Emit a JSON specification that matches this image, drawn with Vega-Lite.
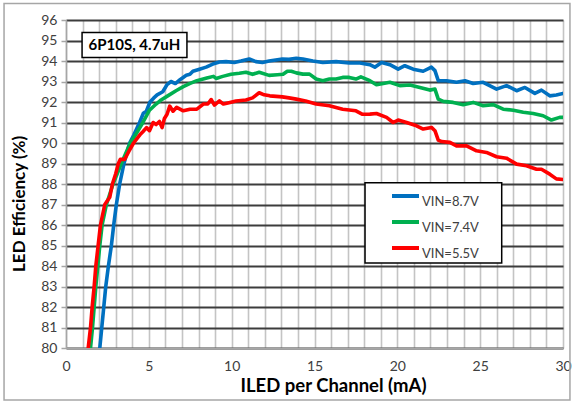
{
  "$schema": "https://vega.github.io/schema/vega-lite/v6.json",
  "width": 497,
  "height": 328,
  "autosize": "none",
  "padding": {"left": 66, "top": 20, "right": 11, "bottom": 55},
  "background": "white",
  "config": {
    "font": "Lato",
    "view": {"stroke": null},
    "axis": {
      "grid": true,
      "tickSize": 5, "tickColor": "#a6a6a6", "tickWidth": 1.5,
      "domainColor": "#a6a6a6", "domainWidth": 1.5,
      "labelFontSize": 14, "labelColor": "#404040",
      "labelOverlap": false, "labelFlush": false,
      "titleFontWeight": "bold", "titleColor": "#000000", "titleBaseline": "middle"
    },
    "axisX": {
      "tickCount": 30, "gridColor": "#c4c4c4", "gridWidth": 1.6, "labelPadding": 6,
      "labelExpr": "datum.value % 5 === 0 ? datum.label : ''",
      "tickOpacity": {"condition": {"test": "datum.value % 5 === 0", "value": 1}, "value": 0},
      "titleFontSize": 18.5, "titleX": 267, "titleY": 37
    },
    "axisY": {"tickCount": 16, "gridColor": "#3c3c3c", "gridWidth": 1.8, "labelPadding": 4}
  },
  "datasets": {
    "curves": [
      {"series": "VIN=8.7V", "current": 2.04, "efficiency": 80},
      {"series": "VIN=8.7V", "current": 2.16, "efficiency": 81},
      {"series": "VIN=8.7V", "current": 2.28, "efficiency": 82},
      {"series": "VIN=8.7V", "current": 2.4, "efficiency": 83},
      {"series": "VIN=8.7V", "current": 2.56, "efficiency": 84},
      {"series": "VIN=8.7V", "current": 2.74, "efficiency": 85},
      {"series": "VIN=8.7V", "current": 2.88, "efficiency": 86},
      {"series": "VIN=8.7V", "current": 3.04, "efficiency": 87},
      {"series": "VIN=8.7V", "current": 3.24, "efficiency": 88},
      {"series": "VIN=8.7V", "current": 3.5, "efficiency": 89},
      {"series": "VIN=8.7V", "current": 3.84, "efficiency": 90},
      {"series": "VIN=8.7V", "current": 4.1, "efficiency": 90.4},
      {"series": "VIN=8.7V", "current": 4.44, "efficiency": 91},
      {"series": "VIN=8.7V", "current": 4.67, "efficiency": 91.45},
      {"series": "VIN=8.7V", "current": 4.85, "efficiency": 91.55},
      {"series": "VIN=8.7V", "current": 5.07, "efficiency": 92},
      {"series": "VIN=8.7V", "current": 5.3, "efficiency": 92.2},
      {"series": "VIN=8.7V", "current": 5.5, "efficiency": 92.35},
      {"series": "VIN=8.7V", "current": 5.84, "efficiency": 92.5},
      {"series": "VIN=8.7V", "current": 6.1, "efficiency": 92.85},
      {"series": "VIN=8.7V", "current": 6.34, "efficiency": 93.0},
      {"series": "VIN=8.7V", "current": 6.6, "efficiency": 92.9},
      {"series": "VIN=8.7V", "current": 6.9, "efficiency": 93.1},
      {"series": "VIN=8.7V", "current": 7.26, "efficiency": 93.3},
      {"series": "VIN=8.7V", "current": 7.48, "efficiency": 93.35},
      {"series": "VIN=8.7V", "current": 7.66, "efficiency": 93.5},
      {"series": "VIN=8.7V", "current": 8.06, "efficiency": 93.6},
      {"series": "VIN=8.7V", "current": 8.46, "efficiency": 93.7},
      {"series": "VIN=8.7V", "current": 8.86, "efficiency": 93.85},
      {"series": "VIN=8.7V", "current": 9.26, "efficiency": 93.95},
      {"series": "VIN=8.7V", "current": 9.66, "efficiency": 93.97},
      {"series": "VIN=8.7V", "current": 10.16, "efficiency": 93.93},
      {"series": "VIN=8.7V", "current": 10.56, "efficiency": 94.0},
      {"series": "VIN=8.7V", "current": 11.06, "efficiency": 94.1},
      {"series": "VIN=8.7V", "current": 11.46, "efficiency": 93.97},
      {"series": "VIN=8.7V", "current": 11.86, "efficiency": 93.93},
      {"series": "VIN=8.7V", "current": 12.26, "efficiency": 94.0},
      {"series": "VIN=8.7V", "current": 12.66, "efficiency": 94.05},
      {"series": "VIN=8.7V", "current": 13.06, "efficiency": 94.1},
      {"series": "VIN=8.7V", "current": 13.46, "efficiency": 94.08},
      {"series": "VIN=8.7V", "current": 13.9, "efficiency": 94.13},
      {"series": "VIN=8.7V", "current": 14.3, "efficiency": 94.1},
      {"series": "VIN=8.7V", "current": 14.9, "efficiency": 94.0},
      {"series": "VIN=8.7V", "current": 15.5, "efficiency": 93.93},
      {"series": "VIN=8.7V", "current": 16.3, "efficiency": 93.97},
      {"series": "VIN=8.7V", "current": 17.1, "efficiency": 93.9},
      {"series": "VIN=8.7V", "current": 17.74, "efficiency": 93.9},
      {"series": "VIN=8.7V", "current": 18.34, "efficiency": 93.82},
      {"series": "VIN=8.7V", "current": 18.64, "efficiency": 93.7},
      {"series": "VIN=8.7V", "current": 19.05, "efficiency": 93.93},
      {"series": "VIN=8.7V", "current": 19.55, "efficiency": 93.82},
      {"series": "VIN=8.7V", "current": 20.05, "efficiency": 93.6},
      {"series": "VIN=8.7V", "current": 20.45, "efficiency": 93.77},
      {"series": "VIN=8.7V", "current": 20.96, "efficiency": 93.6},
      {"series": "VIN=8.7V", "current": 21.56, "efficiency": 93.5},
      {"series": "VIN=8.7V", "current": 22.06, "efficiency": 93.7},
      {"series": "VIN=8.7V", "current": 22.27, "efficiency": 93.53},
      {"series": "VIN=8.7V", "current": 22.47, "efficiency": 93.04},
      {"series": "VIN=8.7V", "current": 22.97, "efficiency": 93.04},
      {"series": "VIN=8.7V", "current": 23.57, "efficiency": 92.96},
      {"series": "VIN=8.7V", "current": 24.08, "efficiency": 93.04},
      {"series": "VIN=8.7V", "current": 24.58, "efficiency": 92.9},
      {"series": "VIN=8.7V", "current": 25.18, "efficiency": 92.96},
      {"series": "VIN=8.7V", "current": 25.99, "efficiency": 92.63},
      {"series": "VIN=8.7V", "current": 26.59, "efficiency": 92.8},
      {"series": "VIN=8.7V", "current": 27.2, "efficiency": 92.55},
      {"series": "VIN=8.7V", "current": 27.7, "efficiency": 92.71},
      {"series": "VIN=8.7V", "current": 28.3, "efficiency": 92.42},
      {"series": "VIN=8.7V", "current": 28.7, "efficiency": 92.58},
      {"series": "VIN=8.7V", "current": 29.2, "efficiency": 92.3},
      {"series": "VIN=8.7V", "current": 29.6, "efficiency": 92.34},
      {"series": "VIN=8.7V", "current": 30, "efficiency": 92.42},

      {"series": "VIN=7.4V", "current": 1.48, "efficiency": 80},
      {"series": "VIN=7.4V", "current": 1.6, "efficiency": 81},
      {"series": "VIN=7.4V", "current": 1.7, "efficiency": 82},
      {"series": "VIN=7.4V", "current": 1.8, "efficiency": 83},
      {"series": "VIN=7.4V", "current": 1.92, "efficiency": 84},
      {"series": "VIN=7.4V", "current": 2.04, "efficiency": 85},
      {"series": "VIN=7.4V", "current": 2.18, "efficiency": 86},
      {"series": "VIN=7.4V", "current": 2.44, "efficiency": 87},
      {"series": "VIN=7.4V", "current": 2.84, "efficiency": 88},
      {"series": "VIN=7.4V", "current": 3.34, "efficiency": 89},
      {"series": "VIN=7.4V", "current": 3.88, "efficiency": 90},
      {"series": "VIN=7.4V", "current": 4.2, "efficiency": 90.4},
      {"series": "VIN=7.4V", "current": 4.64, "efficiency": 91},
      {"series": "VIN=7.4V", "current": 5.04, "efficiency": 91.6},
      {"series": "VIN=7.4V", "current": 5.44, "efficiency": 91.9},
      {"series": "VIN=7.4V", "current": 5.74, "efficiency": 92.1},
      {"series": "VIN=7.4V", "current": 6.14, "efficiency": 92.3},
      {"series": "VIN=7.4V", "current": 6.64, "efficiency": 92.55},
      {"series": "VIN=7.4V", "current": 7.08, "efficiency": 92.75},
      {"series": "VIN=7.4V", "current": 7.46, "efficiency": 92.9},
      {"series": "VIN=7.4V", "current": 7.9, "efficiency": 93.04},
      {"series": "VIN=7.4V", "current": 8.5, "efficiency": 93.17},
      {"series": "VIN=7.4V", "current": 8.9, "efficiency": 93.25},
      {"series": "VIN=7.4V", "current": 9.06, "efficiency": 93.15},
      {"series": "VIN=7.4V", "current": 9.46, "efficiency": 93.25},
      {"series": "VIN=7.4V", "current": 9.96, "efficiency": 93.35},
      {"series": "VIN=7.4V", "current": 10.46, "efficiency": 93.4},
      {"series": "VIN=7.4V", "current": 10.86, "efficiency": 93.45},
      {"series": "VIN=7.4V", "current": 11.26, "efficiency": 93.35},
      {"series": "VIN=7.4V", "current": 11.66, "efficiency": 93.45},
      {"series": "VIN=7.4V", "current": 12.26, "efficiency": 93.3},
      {"series": "VIN=7.4V", "current": 12.76, "efficiency": 93.33},
      {"series": "VIN=7.4V", "current": 13.1, "efficiency": 93.35},
      {"series": "VIN=7.4V", "current": 13.36, "efficiency": 93.5},
      {"series": "VIN=7.4V", "current": 13.6, "efficiency": 93.5},
      {"series": "VIN=7.4V", "current": 13.9, "efficiency": 93.42},
      {"series": "VIN=7.4V", "current": 14.3, "efficiency": 93.36},
      {"series": "VIN=7.4V", "current": 14.7, "efficiency": 93.36},
      {"series": "VIN=7.4V", "current": 15.1, "efficiency": 93.12},
      {"series": "VIN=7.4V", "current": 15.5, "efficiency": 93.04},
      {"series": "VIN=7.4V", "current": 15.9, "efficiency": 93.12},
      {"series": "VIN=7.4V", "current": 16.3, "efficiency": 93.12},
      {"series": "VIN=7.4V", "current": 16.7, "efficiency": 93.2},
      {"series": "VIN=7.4V", "current": 17.1, "efficiency": 93.2},
      {"series": "VIN=7.4V", "current": 17.5, "efficiency": 93.12},
      {"series": "VIN=7.4V", "current": 17.8, "efficiency": 93.23},
      {"series": "VIN=7.4V", "current": 18.34, "efficiency": 93.04},
      {"series": "VIN=7.4V", "current": 18.74, "efficiency": 92.84},
      {"series": "VIN=7.4V", "current": 19.15, "efficiency": 92.9},
      {"series": "VIN=7.4V", "current": 19.55, "efficiency": 92.96},
      {"series": "VIN=7.4V", "current": 20.15, "efficiency": 92.8},
      {"series": "VIN=7.4V", "current": 20.76, "efficiency": 92.83},
      {"series": "VIN=7.4V", "current": 21.36, "efficiency": 92.71},
      {"series": "VIN=7.4V", "current": 21.96, "efficiency": 92.58},
      {"series": "VIN=7.4V", "current": 22.27, "efficiency": 92.63},
      {"series": "VIN=7.4V", "current": 22.47, "efficiency": 92.14},
      {"series": "VIN=7.4V", "current": 22.77, "efficiency": 92.03},
      {"series": "VIN=7.4V", "current": 23.37, "efficiency": 91.98},
      {"series": "VIN=7.4V", "current": 23.98, "efficiency": 91.87},
      {"series": "VIN=7.4V", "current": 24.58, "efficiency": 91.98},
      {"series": "VIN=7.4V", "current": 25.18, "efficiency": 91.82},
      {"series": "VIN=7.4V", "current": 25.79, "efficiency": 91.87},
      {"series": "VIN=7.4V", "current": 26.39, "efficiency": 91.65},
      {"series": "VIN=7.4V", "current": 27.0, "efficiency": 91.6},
      {"series": "VIN=7.4V", "current": 27.6, "efficiency": 91.5},
      {"series": "VIN=7.4V", "current": 28.2, "efficiency": 91.44},
      {"series": "VIN=7.4V", "current": 28.8, "efficiency": 91.33},
      {"series": "VIN=7.4V", "current": 29.3, "efficiency": 91.12},
      {"series": "VIN=7.4V", "current": 29.8, "efficiency": 91.25},
      {"series": "VIN=7.4V", "current": 30, "efficiency": 91.25},

      {"series": "VIN=5.5V", "current": 1.34, "efficiency": 80},
      {"series": "VIN=5.5V", "current": 1.48, "efficiency": 81},
      {"series": "VIN=5.5V", "current": 1.58, "efficiency": 82},
      {"series": "VIN=5.5V", "current": 1.7, "efficiency": 83},
      {"series": "VIN=5.5V", "current": 1.8, "efficiency": 84},
      {"series": "VIN=5.5V", "current": 1.94, "efficiency": 85},
      {"series": "VIN=5.5V", "current": 2.08, "efficiency": 86},
      {"series": "VIN=5.5V", "current": 2.34, "efficiency": 87},
      {"series": "VIN=5.5V", "current": 2.64, "efficiency": 87.35},
      {"series": "VIN=5.5V", "current": 2.8, "efficiency": 88},
      {"series": "VIN=5.5V", "current": 3.0, "efficiency": 88.5},
      {"series": "VIN=5.5V", "current": 3.16, "efficiency": 89},
      {"series": "VIN=5.5V", "current": 3.28, "efficiency": 89.2},
      {"series": "VIN=5.5V", "current": 3.54, "efficiency": 89.2},
      {"series": "VIN=5.5V", "current": 3.8, "efficiency": 89.6},
      {"series": "VIN=5.5V", "current": 4.08, "efficiency": 90},
      {"series": "VIN=5.5V", "current": 4.46, "efficiency": 90.4},
      {"series": "VIN=5.5V", "current": 4.64, "efficiency": 90.55},
      {"series": "VIN=5.5V", "current": 4.86, "efficiency": 90.75},
      {"series": "VIN=5.5V", "current": 5.04, "efficiency": 90.6},
      {"series": "VIN=5.5V", "current": 5.26, "efficiency": 91.0},
      {"series": "VIN=5.5V", "current": 5.44, "efficiency": 90.9},
      {"series": "VIN=5.5V", "current": 5.64, "efficiency": 91.05},
      {"series": "VIN=5.5V", "current": 5.8, "efficiency": 90.75},
      {"series": "VIN=5.5V", "current": 5.94, "efficiency": 91.2},
      {"series": "VIN=5.5V", "current": 6.1, "efficiency": 91.4},
      {"series": "VIN=5.5V", "current": 6.26, "efficiency": 91.8},
      {"series": "VIN=5.5V", "current": 6.46, "efficiency": 91.55},
      {"series": "VIN=5.5V", "current": 6.68, "efficiency": 91.74},
      {"series": "VIN=5.5V", "current": 7.08, "efficiency": 91.57},
      {"series": "VIN=5.5V", "current": 7.48, "efficiency": 91.65},
      {"series": "VIN=5.5V", "current": 7.9, "efficiency": 91.65},
      {"series": "VIN=5.5V", "current": 8.29, "efficiency": 91.9},
      {"series": "VIN=5.5V", "current": 8.56, "efficiency": 91.9},
      {"series": "VIN=5.5V", "current": 8.76, "efficiency": 92.12},
      {"series": "VIN=5.5V", "current": 8.96, "efficiency": 91.85},
      {"series": "VIN=5.5V", "current": 9.26, "efficiency": 92.05},
      {"series": "VIN=5.5V", "current": 9.5, "efficiency": 91.9},
      {"series": "VIN=5.5V", "current": 9.9, "efficiency": 91.98},
      {"series": "VIN=5.5V", "current": 10.26, "efficiency": 92.05},
      {"series": "VIN=5.5V", "current": 10.86, "efficiency": 92.1},
      {"series": "VIN=5.5V", "current": 11.26, "efficiency": 92.2},
      {"series": "VIN=5.5V", "current": 11.66, "efficiency": 92.45},
      {"series": "VIN=5.5V", "current": 11.96, "efficiency": 92.35},
      {"series": "VIN=5.5V", "current": 12.3, "efficiency": 92.3},
      {"series": "VIN=5.5V", "current": 13.06, "efficiency": 92.25},
      {"series": "VIN=5.5V", "current": 13.46, "efficiency": 92.2},
      {"series": "VIN=5.5V", "current": 13.9, "efficiency": 92.14},
      {"series": "VIN=5.5V", "current": 14.46, "efficiency": 92.05},
      {"series": "VIN=5.5V", "current": 15.1, "efficiency": 91.9},
      {"series": "VIN=5.5V", "current": 15.9, "efficiency": 91.82},
      {"series": "VIN=5.5V", "current": 16.7, "efficiency": 91.65},
      {"series": "VIN=5.5V", "current": 17.5, "efficiency": 91.57},
      {"series": "VIN=5.5V", "current": 17.9, "efficiency": 91.4},
      {"series": "VIN=5.5V", "current": 18.34, "efficiency": 91.41},
      {"series": "VIN=5.5V", "current": 18.74, "efficiency": 91.44},
      {"series": "VIN=5.5V", "current": 19.35, "efficiency": 91.25},
      {"series": "VIN=5.5V", "current": 19.75, "efficiency": 91.0},
      {"series": "VIN=5.5V", "current": 20.05, "efficiency": 91.12},
      {"series": "VIN=5.5V", "current": 20.56, "efficiency": 91.0},
      {"series": "VIN=5.5V", "current": 21.16, "efficiency": 90.84},
      {"series": "VIN=5.5V", "current": 21.56, "efficiency": 90.68},
      {"series": "VIN=5.5V", "current": 22.06, "efficiency": 90.76},
      {"series": "VIN=5.5V", "current": 22.27, "efficiency": 90.6},
      {"series": "VIN=5.5V", "current": 22.47, "efficiency": 90.14},
      {"series": "VIN=5.5V", "current": 22.67, "efficiency": 90.07},
      {"series": "VIN=5.5V", "current": 23.17, "efficiency": 90.03},
      {"series": "VIN=5.5V", "current": 23.57, "efficiency": 89.86},
      {"series": "VIN=5.5V", "current": 24.18, "efficiency": 89.86},
      {"series": "VIN=5.5V", "current": 24.78, "efficiency": 89.62},
      {"series": "VIN=5.5V", "current": 25.38, "efficiency": 89.54},
      {"series": "VIN=5.5V", "current": 25.99, "efficiency": 89.33},
      {"series": "VIN=5.5V", "current": 26.59, "efficiency": 89.26},
      {"series": "VIN=5.5V", "current": 27.2, "efficiency": 88.97},
      {"series": "VIN=5.5V", "current": 27.8, "efficiency": 88.89},
      {"series": "VIN=5.5V", "current": 28.4, "efficiency": 88.72},
      {"series": "VIN=5.5V", "current": 28.7, "efficiency": 88.72},
      {"series": "VIN=5.5V", "current": 29.2, "efficiency": 88.48},
      {"series": "VIN=5.5V", "current": 29.6, "efficiency": 88.25},
      {"series": "VIN=5.5V", "current": 30, "efficiency": 88.22}
    ]
  },
  "layer": [
    {
      "data": {"name": "curves"},
      "mark": {"type": "line", "strokeWidth": 3.6, "strokeJoin": "round", "strokeCap": "round", "clip": true},
      "encoding": {
        "x": {
          "field": "current", "type": "quantitative",
          "scale": {"domain": [0, 30], "nice": false, "zero": false},
          "axis": {"title": "ILED per Channel (mA)"}
        },
        "y": {
          "field": "efficiency", "type": "quantitative",
          "scale": {"domain": [80, 96], "nice": false, "zero": false},
          "axis": {"title": null}
        },
        "color": {
          "field": "series", "type": "nominal",
          "scale": {"domain": ["VIN=8.7V", "VIN=7.4V", "VIN=5.5V"], "range": ["#0070C0", "#00B050", "#FF0000"]},
          "legend": {
            "orient": "none", "legendX": 324, "legendY": 163,
            "title": null, "symbolType": "stroke", "symbolSize": 729, "symbolStrokeWidth": 4,
            "labelFontSize": 13, "labelColor": "#404040", "labelOffset": 1, "labelBaseline": "top",
            "rowPadding": 0, "clipHeight": 26, "padding": 0
          }
        }
      }
    },
    {
      "data": {"values": [{}]},
      "mark": {"type": "rect", "fill": null, "fillOpacity": 0, "stroke": "#a6a6a6", "strokeWidth": 1.5, "clip": false},
      "encoding": {
        "x": {"datum": -3.74, "type": "quantitative", "scale": {"domain": [0, 30], "nice": false, "zero": false}},
        "x2": {"datum": 30.42},
        "y": {"datum": 96.81, "type": "quantitative", "scale": {"domain": [80, 96], "nice": false, "zero": false}},
        "y2": {"datum": 77.46}
      }
    },
    {
      "data": {"values": [{}]},
      "mark": {"type": "text", "text": "LED Efficiency (%)", "angle": 270, "fontSize": 17, "fontWeight": "bold", "color": "#000000", "align": "center", "baseline": "middle", "clip": false},
      "encoding": {
        "x": {"datum": -2.78, "type": "quantitative", "scale": {"domain": [0, 30], "nice": false, "zero": false}},
        "y": {"datum": 87.03, "type": "quantitative", "scale": {"domain": [80, 96], "nice": false, "zero": false}}
      }
    },
    {
      "data": {"values": [{}]},
      "mark": {"type": "rect", "fill": "white", "stroke": "#000000", "strokeWidth": 1.5},
      "encoding": {
        "x": {"datum": 18.05, "type": "quantitative", "scale": {"domain": [0, 30], "nice": false, "zero": false}},
        "x2": {"datum": 26.3},
        "y": {"datum": 88.06, "type": "quantitative", "scale": {"domain": [80, 96], "nice": false, "zero": false}},
        "y2": {"datum": 84.15}
      }
    },
    {
      "data": {"values": [{}]},
      "mark": {"type": "rect", "fill": "white", "stroke": "#000000", "strokeWidth": 1.5},
      "encoding": {
        "x": {"datum": 0.97, "type": "quantitative", "scale": {"domain": [0, 30], "nice": false, "zero": false}},
        "x2": {"datum": 7.3},
        "y": {"datum": 95.39, "type": "quantitative", "scale": {"domain": [80, 96], "nice": false, "zero": false}},
        "y2": {"datum": 94.17}
      }
    },
    {
      "data": {"values": [{}]},
      "mark": {"type": "text", "text": "6P10S, 4.7uH", "fontSize": 15, "fontWeight": "bold", "color": "#000000", "align": "center", "baseline": "middle"},
      "encoding": {
        "x": {"datum": 4.13, "type": "quantitative", "scale": {"domain": [0, 30], "nice": false, "zero": false}},
        "y": {"datum": 94.78, "type": "quantitative", "scale": {"domain": [80, 96], "nice": false, "zero": false}}
      }
    }
  ]
}
